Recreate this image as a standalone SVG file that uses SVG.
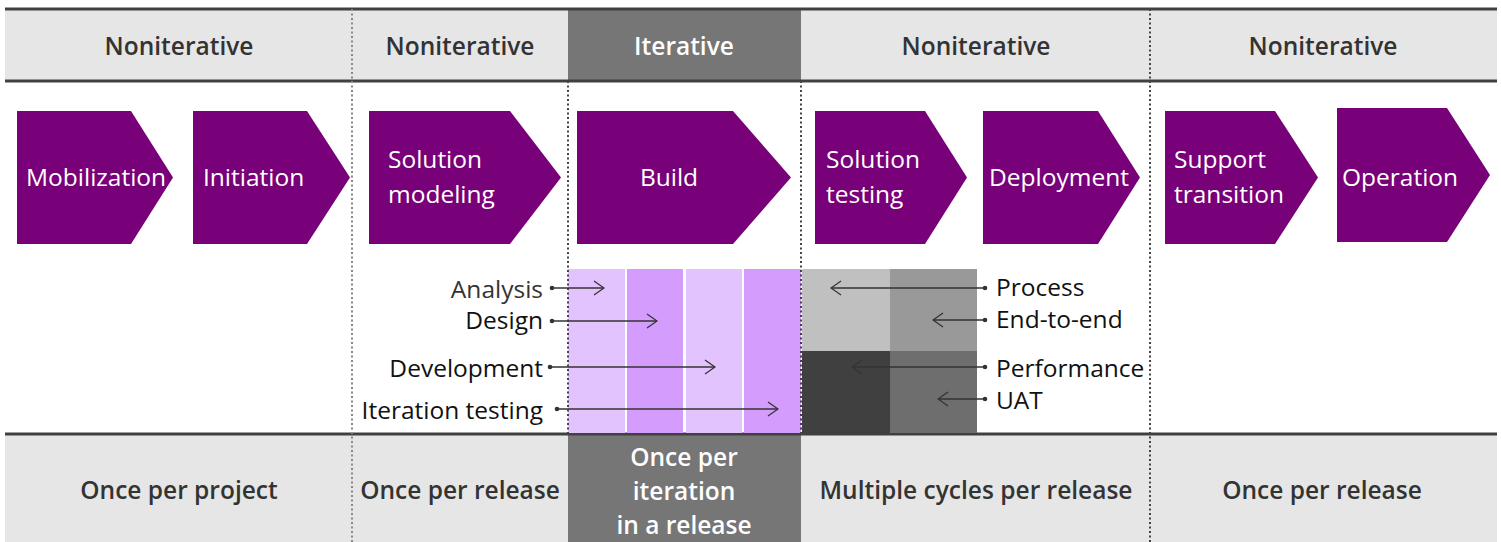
<svg xmlns="http://www.w3.org/2000/svg" width="1501" height="542" viewBox="0 0 1501 542">
<defs>
<style>
.band{fill:#e6e6e6}
.iter{fill:#767676}
.rule{stroke:#404040;stroke-width:3}
.dot{stroke:#444;stroke-width:2;stroke-dasharray:2 2.5;fill:none}
.dotl{stroke:#888;stroke-width:2;stroke-dasharray:2 2.5;fill:none}
.hd{font-family:"Open Sans","Noto Sans",sans-serif;font-weight:600;font-size:24.5px;fill:#333;text-anchor:middle;dominant-baseline:central}
.hdw{fill:#fff}
.chev{fill:#780078}
.ct{font-family:"Open Sans","Noto Sans",sans-serif;font-size:24.5px;fill:#fff;dominant-baseline:central}
.lbl{font-family:"Open Sans","Noto Sans",sans-serif;font-size:24.5px;fill:#111;dominant-baseline:central}
.conn{stroke:#333;stroke-width:1.3;fill:none}
</style>
<marker id="head" viewBox="0 0 12 16" refX="11" refY="8" markerWidth="12" markerHeight="16" markerUnits="userSpaceOnUse" orient="auto">
<path d="M1 1 L11 8 L1 15" fill="none" stroke="#333" stroke-width="1.3"/>
</marker>
<marker id="tail" viewBox="0 0 6 6" refX="3" refY="3" markerWidth="6" markerHeight="6" markerUnits="userSpaceOnUse" orient="auto">
<circle cx="3" cy="3" r="2.3" fill="#333"/>
</marker>
</defs>

<g id="header-band">
<rect class="band" x="5" y="9" width="1492" height="72"/>
<rect class="iter" x="568" y="9" width="233" height="72"/>
<line class="rule" x1="5" y1="9" x2="1497" y2="9"/>
<line class="rule" x1="5" y1="81" x2="1497" y2="81"/>
<text class="hd" x="179" y="45">Noniterative</text>
<text class="hd" x="460" y="45">Noniterative</text>
<text class="hd hdw" x="684" y="45">Iterative</text>
<text class="hd" x="976" y="45">Noniterative</text>
<text class="hd" x="1323" y="45">Noniterative</text>
</g>

<g id="footer-band">
<rect class="band" x="5" y="434" width="1492" height="108"/>
<rect class="iter" x="568" y="434" width="233" height="108"/>
<line class="rule" x1="5" y1="434" x2="1497" y2="434"/>
<text class="hd" x="179" y="489">Once per project</text>
<text class="hd" x="460" y="489">Once per release</text>
<text class="hd hdw" x="684" y="456">Once per</text>
<text class="hd hdw" x="684" y="490">iteration</text>
<text class="hd hdw" x="684" y="524">in a release</text>
<text class="hd" x="976" y="489">Multiple cycles per release</text>
<text class="hd" x="1322" y="489">Once per release</text>
</g>

<g id="build-grid">
<rect x="568" y="269" width="57" height="164" fill="#e2c3fd"/>
<rect x="627" y="269" width="56" height="164" fill="#d49cfd"/>
<rect x="686" y="269" width="56" height="164" fill="#e2c3fd"/>
<rect x="744" y="269" width="57" height="164" fill="#d49cfd"/>
</g>

<g id="testing-grid">
<rect x="802" y="269" width="88" height="82" fill="#c0c0c0"/>
<rect x="890" y="269" width="87" height="82" fill="#999999"/>
<rect x="802" y="351" width="88" height="82" fill="#404040"/>
<rect x="890" y="351" width="87" height="82" fill="#6e6e6e"/>
</g>

<g id="dividers">
<line class="dotl" x1="352" y1="9" x2="352" y2="542"/>
<line class="dot" x1="568" y1="81" x2="568" y2="434"/>
<line class="dot" x1="801" y1="81" x2="801" y2="434"/>
<line class="dot" x1="1150" y1="9" x2="1150" y2="542"/>
</g>

<g id="mobilization"><path class="chev" d="M17 111 H131 L173 177.5 L131 244 H17 Z"/><text class="ct" x="26" y="176">Mobilization</text></g>
<g id="initiation"><path class="chev" d="M193 111 H307 L350 177.5 L307 244 H193 Z"/><text class="ct" x="203" y="176">Initiation</text></g>
<g id="solution-modeling"><path class="chev" d="M369 111 H510 L561 177.5 L510 244 H369 Z"/><text class="ct" x="388" y="158">Solution</text><text class="ct" x="388" y="193">modeling</text></g>
<g id="build"><path class="chev" d="M577 111 H733 L791 177.5 L733 244 H577 Z"/><text class="ct" x="669" y="176" text-anchor="middle">Build</text></g>
<g id="solution-testing"><path class="chev" d="M815 111 H925 L967 177.5 L925 244 H815 Z"/><text class="ct" x="826" y="158">Solution</text><text class="ct" x="826" y="193">testing</text></g>
<g id="deployment"><path class="chev" d="M983 111 H1098 L1140 177.5 L1098 244 H983 Z"/><text class="ct" x="989" y="176">Deployment</text></g>
<g id="support-transition"><path class="chev" d="M1165 111 H1275 L1318 177.5 L1275 244 H1165 Z"/><text class="ct" x="1174" y="158">Support</text><text class="ct" x="1174" y="193">transition</text></g>
<g id="operation"><path class="chev" d="M1337 108 H1447 L1490 175 L1447 242 H1337 Z"/><text class="ct" x="1342" y="176">Operation</text></g>

<g id="labels">
<text class="lbl" x="543" y="288" text-anchor="end" style="fill:#333">Analysis</text>
<text class="lbl" x="543" y="319" text-anchor="end">Design</text>
<text class="lbl" x="543" y="367" text-anchor="end">Development</text>
<text class="lbl" x="543" y="409" text-anchor="end">Iteration testing</text>
<text class="lbl" x="996" y="286">Process</text>
<text class="lbl" x="996" y="318">End-to-end</text>
<text class="lbl" x="996" y="367">Performance</text>
<text class="lbl" x="996" y="399">UAT</text>
</g>

<g id="connectors">
<line class="conn" x1="552" y1="288" x2="604" y2="288" marker-start="url(#tail)" marker-end="url(#head)"/>
<line class="conn" x1="552" y1="321" x2="657" y2="321" marker-start="url(#tail)" marker-end="url(#head)"/>
<line class="conn" x1="550" y1="367" x2="715" y2="367" marker-start="url(#tail)" marker-end="url(#head)"/>
<line class="conn" x1="557" y1="409" x2="778" y2="409" marker-start="url(#tail)" marker-end="url(#head)"/>
<line class="conn" x1="985" y1="288" x2="831" y2="288" marker-start="url(#tail)" marker-end="url(#head)"/>
<line class="conn" x1="985" y1="320" x2="933" y2="320" marker-start="url(#tail)" marker-end="url(#head)"/>
<line class="conn" x1="985" y1="367" x2="852" y2="367" marker-start="url(#tail)" marker-end="url(#head)"/>
<line class="conn" x1="985" y1="399" x2="938" y2="399" marker-start="url(#tail)" marker-end="url(#head)"/>
</g>
</svg>
